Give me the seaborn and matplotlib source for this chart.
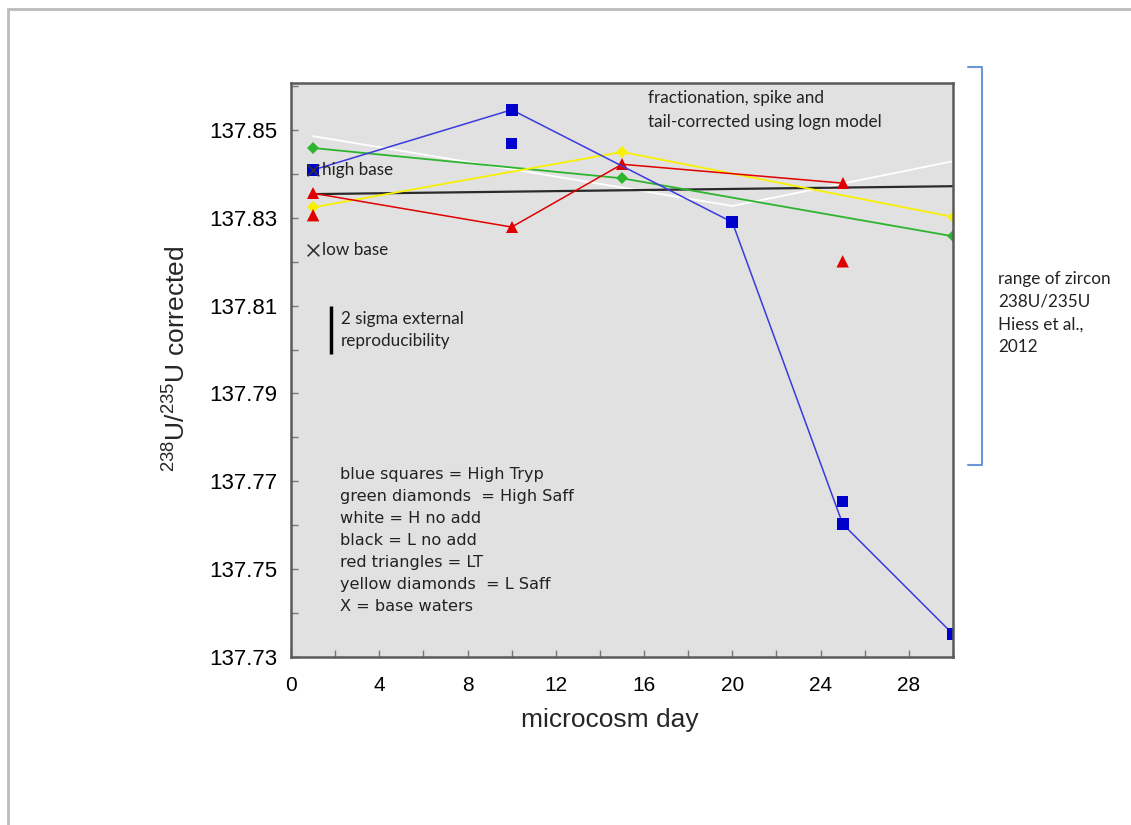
import matplotlib
matplotlib.use("Agg")
import matplotlib.pyplot as plt
from matplotlib.ticker import FixedLocator, MultipleLocator, FormatStrFormatter
from matplotlib.patches import Rectangle
from matplotlib.lines import Line2D
import seaborn as sns
import pandas as pd

# ---------------- data ----------------
high_tryp_days = [1, 10, 20, 25, 30]
high_tryp_vals = [137.8409, 137.8546, 137.8290, 137.7603, 137.7352]
high_tryp_extra_days = [10, 25]
high_tryp_extra_vals = [137.8470, 137.7654]

high_saff_days = [1, 15, 30]
high_saff_vals = [137.8459, 137.8390, 137.8258]

l_saff_days = [1, 15, 30]
l_saff_vals = [137.8324, 137.8450, 137.8302]

lt_days = [1, 10, 15, 25]
lt_vals = [137.8356, 137.8279, 137.8422, 137.8379]
lt_extra_days = [1, 25]
lt_extra_vals = [137.8306, 137.8201]

h_noadd_days = [1, 20, 30]
h_noadd_vals = [137.8486, 137.8327, 137.8429]

l_noadd_days = [1, 30]
l_noadd_vals = [137.8354, 137.8372]

base_days = [1, 1]
base_vals = [137.8409, 137.8226]
base_labels = ["high base", "low base"]

zircon_range = [137.7738, 137.8644]
sigma_bar = [137.7990, 137.8099]

x_ticks = [0, 4, 8, 12, 16, 20, 24, 28]
y_ticks = [137.73, 137.75, 137.77, 137.79, 137.81, 137.83, 137.85]

legend_lines = ["blue squares = High Tryp", "green diamonds  = High Saff",
                "white = H no add", "black = L no add", "red triangles = LT",
                "yellow diamonds  = L Saff", "X = base waters"]

# ---------------- style ----------------
sns.set_theme(style="white")
plt.rcParams['font.family'] = ['Liberation Sans', 'DejaVu Sans']
plt.rcParams['mathtext.fontset'] = 'custom'
plt.rcParams['mathtext.rm'] = 'Liberation Sans'

fig = plt.figure(figsize=(11.31, 8.25), dpi=100)
fig.patch.set_facecolor('white')
ax = fig.add_axes([291/1131, 1-657/825, 662/1131, 574/825])
ax.set_facecolor('#E1E1E1')

BLUE_M = '#0000CC'
BLUE_L = '#3A3ADF'
GREEN = '#2DB52D'
YELLOW = '#F8F000'
RED = '#E00000'

# lines
sns.lineplot(x=h_noadd_days, y=h_noadd_vals, ax=ax, color='white', linewidth=1.3, sort=False)
sns.lineplot(x=l_noadd_days, y=l_noadd_vals, ax=ax, color='#2a2a2a', linewidth=1.6, sort=False)
sns.lineplot(x=high_saff_days, y=high_saff_vals, ax=ax, color=GREEN, linewidth=1.3,
             marker='D', markersize=6, markeredgewidth=0, sort=False)
sns.lineplot(x=l_saff_days, y=l_saff_vals, ax=ax, color=YELLOW, linewidth=1.3,
             marker='D', markersize=6, markeredgewidth=0, sort=False)
sns.lineplot(x=lt_days, y=lt_vals, ax=ax, color=RED, linewidth=1.1,
             marker='^', markersize=9, markeredgewidth=0, sort=False)
sns.lineplot(x=high_tryp_days, y=high_tryp_vals, ax=ax, color=BLUE_L, linewidth=1.1,
             marker='s', markersize=8, markeredgewidth=0,
             markerfacecolor=BLUE_M, sort=False)

# unconnected points
sns.scatterplot(x=high_tryp_extra_days, y=high_tryp_extra_vals, ax=ax, marker='s',
                s=64, color=BLUE_M, edgecolor='none', zorder=4)
sns.scatterplot(x=lt_extra_days, y=lt_extra_vals, ax=ax, marker='^',
                s=80, color=RED, edgecolor='none', zorder=4)
sns.scatterplot(x=base_days, y=base_vals, ax=ax, marker='x', s=70,
                color='#333333', linewidth=1.2, zorder=5)

# base labels
for d, v, lab in zip(base_days, base_vals, base_labels):
    ax.text(d + 0.42, v, lab, fontsize=12.3, family=['Lato', 'DejaVu Sans'],
            color='#222222', va='center', ha='left', zorder=6)

# 2 sigma bar
ax.plot([1.8, 1.8], sigma_bar, color='black', linewidth=2.5, solid_capstyle='butt')
ax.text(2.25, sum(sigma_bar)/2, "2 sigma external\nreproducibility", fontsize=12.3,
        family=['Lato', 'DejaVu Sans'], color='#222222', va='center', ha='left',
        linespacing=1.5)

ax.text(0.539, 0.987, "fractionation, spike and\ntail-corrected using logn model",
        transform=ax.transAxes, fontsize=12.3, family=['Lato', 'DejaVu Sans'],
        color='#222222', va='top', ha='left', linespacing=1.55)

ax.text(0.074, 0.331, "\n".join(legend_lines), transform=ax.transAxes, fontsize=11.6,
        family=['DejaVu Sans'], color='#222222', va='top', ha='left', linespacing=1.58)

# axes limits and ticks
ax.set_xlim(0, 30)
ax.set_ylim(137.73, 137.8607)
ax.xaxis.set_major_locator(FixedLocator(x_ticks))
ax.xaxis.set_minor_locator(MultipleLocator(2))
ax.yaxis.set_major_locator(FixedLocator(y_ticks))
ax.yaxis.set_minor_locator(MultipleLocator(0.01))
ax.yaxis.set_major_formatter(FormatStrFormatter('%.2f'))
ax.tick_params(which='both', direction='in', length=5, width=1, color='#777777',
               labelcolor='black')
ax.tick_params(axis='x', which='both', pad=14, labelsize=15)
ax.tick_params(axis='y', which='both', pad=10, labelsize=16)
ax.tick_params(which='both', bottom=True, left=True, top=False, right=False)
for s in ax.spines.values():
    s.set_visible(True)
    s.set_color('#5a5a5a')
    s.set_linewidth(1.8)

ax.set_xlabel("microcosm day", fontsize=19)
ax.xaxis.set_label_coords(0.482, -0.089)
ax.set_ylabel(r"$\mathregular{^{238}}$U/$\mathregular{^{235}}$U corrected", fontsize=19)
ax.yaxis.set_label_coords(-0.152, 0.52)

# zircon range bracket (outside axes, in data y coordinates)
trans = matplotlib.transforms.blended_transform_factory(fig.transFigure, ax.transData)
xb0, xb1 = 968/1131, 982/1131
bracket = Line2D([xb0, xb1, xb1, xb0],
                 [zircon_range[1], zircon_range[1], zircon_range[0], zircon_range[0]],
                 transform=trans, color='#6A98D6', linewidth=1.5, clip_on=False)
fig.add_artist(bracket)
fig.text(998/1131, 1-313/825, "range of zircon\n238U/235U\nHiess et al.,\n2012",
         fontsize=12.3, family=['Lato', 'DejaVu Sans'], color='#222222',
         va='center', ha='left', linespacing=1.5)

# outer chart border
fig.add_artist(Rectangle((8/1131, -0.05), 1.2, 1.05 - 9/825, transform=fig.transFigure,
                         fill=False, edgecolor='#BBBBBB', linewidth=2))

fig.savefig("out.png", dpi=100)
